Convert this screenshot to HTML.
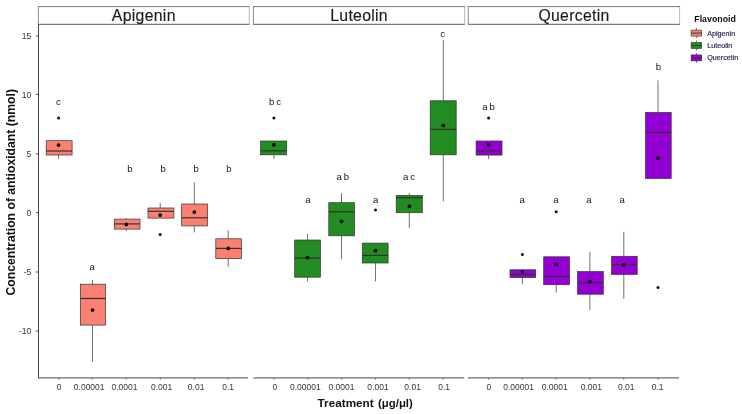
<!DOCTYPE html>
<html><head><meta charset="utf-8"><title>Flavonoid boxplot</title>
<style>
html,body{margin:0;padding:0;background:#fff;}
body{width:742px;height:414px;overflow:hidden;font-family:"Liberation Sans",sans-serif;}
svg{display:block;}
text{filter:grayscale(1);}
text{font-family:"Liberation Sans",sans-serif;}
.tk{font-size:8.5px;fill:#363636;}
.lb{font-size:9.6px;fill:#141414;word-spacing:-0.7px;}
.st{font-size:15.8px;letter-spacing:0.3px;fill:#1a1a1a;stroke:#1a1a1a;stroke-width:0.15px;}
.at{font-size:12.2px;font-weight:bold;fill:#111;}
.lt{font-size:8.8px;font-weight:bold;fill:#111;}
.le{font-size:7.2px;fill:#2c2c62;stroke:#2c2c62;stroke-width:0.2px;filter:saturate(1);}
</style></head><body>
<svg width="742" height="414" viewBox="0 0 742 414">
<rect x="0" y="0" width="742" height="414" fill="#ffffff"/>

<line x1="37.9" y1="6.6" x2="249.7" y2="6.6" stroke="#6a6a6a" stroke-width="0.9"/>
<line x1="37.9" y1="24.3" x2="249.7" y2="24.3" stroke="#4a4a4a" stroke-width="0.9"/>
<line x1="38.3" y1="6.6" x2="38.3" y2="24.3" stroke="#808080" stroke-width="0.9"/>
<line x1="249.3" y1="6.6" x2="249.3" y2="24.3" stroke="#b0b0b0" stroke-width="0.9"/>
<text class="st" x="143.8" y="21.35" text-anchor="middle">Apigenin</text>
<line x1="253.0" y1="6.6" x2="465.1" y2="6.6" stroke="#6a6a6a" stroke-width="0.9"/>
<line x1="253.0" y1="24.3" x2="465.1" y2="24.3" stroke="#4a4a4a" stroke-width="0.9"/>
<line x1="253.4" y1="6.6" x2="253.4" y2="24.3" stroke="#808080" stroke-width="0.9"/>
<line x1="464.7" y1="6.6" x2="464.7" y2="24.3" stroke="#b0b0b0" stroke-width="0.9"/>
<text class="st" x="359.1" y="21.35" text-anchor="middle">Luteolin</text>
<line x1="467.9" y1="6.6" x2="680.0" y2="6.6" stroke="#6a6a6a" stroke-width="0.9"/>
<line x1="467.9" y1="24.3" x2="680.0" y2="24.3" stroke="#4a4a4a" stroke-width="0.9"/>
<line x1="468.3" y1="6.6" x2="468.3" y2="24.3" stroke="#808080" stroke-width="0.9"/>
<line x1="679.6" y1="6.6" x2="679.6" y2="24.3" stroke="#b0b0b0" stroke-width="0.9"/>
<text class="st" x="574.0" y="21.35" text-anchor="middle">Quercetin</text>
<line x1="38.5" y1="24.4" x2="38.5" y2="378.4" stroke="#333" stroke-width="0.9"/>
<line x1="38.0" y1="377.9" x2="248.0" y2="377.9" stroke="#6a6a6a" stroke-width="1.1"/>
<line x1="253.6" y1="377.9" x2="464.2" y2="377.9" stroke="#6a6a6a" stroke-width="1.1"/>
<line x1="467.9" y1="377.9" x2="679.0" y2="377.9" stroke="#6a6a6a" stroke-width="1.1"/>
<line x1="35.8" y1="36.1" x2="38.5" y2="36.1" stroke="#333" stroke-width="0.8"/>
<text class="tk" x="31.3" y="39.1" text-anchor="end">15</text>
<line x1="35.8" y1="94.4" x2="38.5" y2="94.4" stroke="#333" stroke-width="0.8"/>
<text class="tk" x="31.3" y="97.5" text-anchor="end">10</text>
<line x1="35.8" y1="153.8" x2="38.5" y2="153.8" stroke="#333" stroke-width="0.8"/>
<text class="tk" x="31.3" y="156.9" text-anchor="end">5</text>
<line x1="35.8" y1="212.6" x2="38.5" y2="212.6" stroke="#333" stroke-width="0.8"/>
<text class="tk" x="31.3" y="215.7" text-anchor="end">0</text>
<line x1="35.8" y1="272.0" x2="38.5" y2="272.0" stroke="#333" stroke-width="0.8"/>
<text class="tk" x="31.3" y="275.1" text-anchor="end">-5</text>
<line x1="35.8" y1="331.1" x2="38.5" y2="331.1" stroke="#333" stroke-width="0.8"/>
<text class="tk" x="31.3" y="334.2" text-anchor="end">-10</text>
<line x1="59.0" y1="378" x2="59.0" y2="379.7" stroke="#555" stroke-width="0.8"/>
<line x1="92.4" y1="378" x2="92.4" y2="379.7" stroke="#555" stroke-width="0.8"/>
<line x1="126.3" y1="378" x2="126.3" y2="379.7" stroke="#555" stroke-width="0.8"/>
<line x1="160.3" y1="378" x2="160.3" y2="379.7" stroke="#555" stroke-width="0.8"/>
<line x1="194.5" y1="378" x2="194.5" y2="379.7" stroke="#555" stroke-width="0.8"/>
<line x1="228.2" y1="378" x2="228.2" y2="379.7" stroke="#555" stroke-width="0.8"/>
<line x1="273.9" y1="378" x2="273.9" y2="379.7" stroke="#555" stroke-width="0.8"/>
<line x1="307.8" y1="378" x2="307.8" y2="379.7" stroke="#555" stroke-width="0.8"/>
<line x1="341.6" y1="378" x2="341.6" y2="379.7" stroke="#555" stroke-width="0.8"/>
<line x1="375.5" y1="378" x2="375.5" y2="379.7" stroke="#555" stroke-width="0.8"/>
<line x1="409.4" y1="378" x2="409.4" y2="379.7" stroke="#555" stroke-width="0.8"/>
<line x1="443.3" y1="378" x2="443.3" y2="379.7" stroke="#555" stroke-width="0.8"/>
<line x1="488.6" y1="378" x2="488.6" y2="379.7" stroke="#555" stroke-width="0.8"/>
<line x1="522.4" y1="378" x2="522.4" y2="379.7" stroke="#555" stroke-width="0.8"/>
<line x1="556.2" y1="378" x2="556.2" y2="379.7" stroke="#555" stroke-width="0.8"/>
<line x1="589.9" y1="378" x2="589.9" y2="379.7" stroke="#555" stroke-width="0.8"/>
<line x1="623.8" y1="378" x2="623.8" y2="379.7" stroke="#555" stroke-width="0.8"/>
<line x1="658.0" y1="378" x2="658.0" y2="379.7" stroke="#555" stroke-width="0.8"/>
<text class="tk" x="59.0" y="390.4" text-anchor="middle">0</text>
<text class="tk" x="89.2" y="390.4" text-anchor="middle">0.00001</text>
<text class="tk" x="124.5" y="390.4" text-anchor="middle">0.0001</text>
<text class="tk" x="161.6" y="390.4" text-anchor="middle">0.001</text>
<text class="tk" x="196.1" y="390.4" text-anchor="middle">0.01</text>
<text class="tk" x="228.2" y="390.4" text-anchor="middle">0.1</text>
<text class="tk" x="274.8" y="390.4" text-anchor="middle">0</text>
<text class="tk" x="305.3" y="390.4" text-anchor="middle">0.00001</text>
<text class="tk" x="341.5" y="390.4" text-anchor="middle">0.0001</text>
<text class="tk" x="378.0" y="390.4" text-anchor="middle">0.001</text>
<text class="tk" x="412.6" y="390.4" text-anchor="middle">0.01</text>
<text class="tk" x="444.2" y="390.4" text-anchor="middle">0.1</text>
<text class="tk" x="488.8" y="390.4" text-anchor="middle">0</text>
<text class="tk" x="518.6" y="390.4" text-anchor="middle">0.00001</text>
<text class="tk" x="554.7" y="390.4" text-anchor="middle">0.0001</text>
<text class="tk" x="591.4" y="390.4" text-anchor="middle">0.001</text>
<text class="tk" x="626.2" y="390.4" text-anchor="middle">0.01</text>
<text class="tk" x="657.6" y="390.4" text-anchor="middle">0.1</text>
<line x1="58.6" y1="155.0" x2="58.6" y2="159.0" stroke="#333333" stroke-width="0.7"/>
<rect x="46.2" y="140.7" width="25.9" height="14.3" fill="#FA8072" stroke="#333333" stroke-width="0.7"/>
<line x1="46.2" y1="151.0" x2="72.1" y2="151.0" stroke="#333333" stroke-width="1.2"/>
<circle cx="58.6" cy="118.0" r="1.5" fill="#111"/>
<circle cx="58.6" cy="145.0" r="1.85" fill="#000"/>
<line x1="92.5" y1="280.0" x2="92.5" y2="284.2" stroke="#333333" stroke-width="0.7"/>
<line x1="92.5" y1="325.1" x2="92.5" y2="361.8" stroke="#333333" stroke-width="0.7"/>
<rect x="80.4" y="284.2" width="25.1" height="40.9" fill="#FA8072" stroke="#333333" stroke-width="0.7"/>
<line x1="80.4" y1="298.5" x2="105.5" y2="298.5" stroke="#333333" stroke-width="1.2"/>
<circle cx="92.5" cy="310.0" r="1.85" fill="#000"/>
<line x1="126.3" y1="218.0" x2="126.3" y2="219.1" stroke="#333333" stroke-width="0.7"/>
<line x1="126.3" y1="229.1" x2="126.3" y2="231.2" stroke="#333333" stroke-width="0.7"/>
<rect x="114.3" y="219.1" width="25.7" height="10.0" fill="#FA8072" stroke="#333333" stroke-width="0.7"/>
<line x1="114.3" y1="223.9" x2="140.0" y2="223.9" stroke="#333333" stroke-width="1.2"/>
<circle cx="126.3" cy="224.4" r="1.85" fill="#000"/>
<line x1="160.2" y1="203.0" x2="160.2" y2="208.0" stroke="#333333" stroke-width="0.7"/>
<rect x="148.0" y="208.0" width="25.9" height="10.1" fill="#FA8072" stroke="#333333" stroke-width="0.7"/>
<line x1="148.0" y1="211.3" x2="173.9" y2="211.3" stroke="#333333" stroke-width="1.2"/>
<circle cx="160.2" cy="234.4" r="1.5" fill="#111"/>
<circle cx="160.2" cy="215.1" r="1.85" fill="#000"/>
<line x1="194.3" y1="182.2" x2="194.3" y2="204.0" stroke="#333333" stroke-width="0.7"/>
<line x1="194.3" y1="225.9" x2="194.3" y2="232.4" stroke="#333333" stroke-width="0.7"/>
<rect x="181.7" y="204.0" width="25.8" height="21.9" fill="#FA8072" stroke="#333333" stroke-width="0.7"/>
<line x1="181.7" y1="217.8" x2="207.5" y2="217.8" stroke="#333333" stroke-width="1.2"/>
<circle cx="194.3" cy="212.1" r="1.85" fill="#000"/>
<line x1="228.2" y1="230.4" x2="228.2" y2="238.8" stroke="#333333" stroke-width="0.7"/>
<line x1="228.2" y1="258.6" x2="228.2" y2="266.9" stroke="#333333" stroke-width="0.7"/>
<rect x="215.8" y="238.8" width="25.7" height="19.8" fill="#FA8072" stroke="#333333" stroke-width="0.7"/>
<line x1="215.8" y1="248.4" x2="241.5" y2="248.4" stroke="#333333" stroke-width="1.2"/>
<circle cx="228.2" cy="248.4" r="1.85" fill="#000"/>
<line x1="273.9" y1="154.8" x2="273.9" y2="159.0" stroke="#333333" stroke-width="0.7"/>
<rect x="260.6" y="141.0" width="26.1" height="13.8" fill="#228B22" stroke="#333333" stroke-width="0.7"/>
<line x1="260.6" y1="150.8" x2="286.7" y2="150.8" stroke="#333333" stroke-width="1.2"/>
<circle cx="273.9" cy="118.1" r="1.5" fill="#111"/>
<circle cx="273.9" cy="144.8" r="1.85" fill="#000"/>
<line x1="307.6" y1="233.8" x2="307.6" y2="240.0" stroke="#333333" stroke-width="0.7"/>
<line x1="307.6" y1="277.2" x2="307.6" y2="281.5" stroke="#333333" stroke-width="0.7"/>
<rect x="294.7" y="240.0" width="25.7" height="37.2" fill="#228B22" stroke="#333333" stroke-width="0.7"/>
<line x1="294.7" y1="258.1" x2="320.4" y2="258.1" stroke="#333333" stroke-width="1.2"/>
<circle cx="307.6" cy="257.6" r="1.85" fill="#000"/>
<line x1="341.5" y1="193.1" x2="341.5" y2="202.7" stroke="#333333" stroke-width="0.7"/>
<line x1="341.5" y1="235.8" x2="341.5" y2="259.2" stroke="#333333" stroke-width="0.7"/>
<rect x="328.8" y="202.7" width="25.7" height="33.1" fill="#228B22" stroke="#333333" stroke-width="0.7"/>
<line x1="328.8" y1="211.7" x2="354.5" y2="211.7" stroke="#333333" stroke-width="1.2"/>
<circle cx="341.5" cy="221.3" r="1.85" fill="#000"/>
<line x1="375.5" y1="263.0" x2="375.5" y2="281.4" stroke="#333333" stroke-width="0.7"/>
<rect x="362.3" y="243.1" width="25.8" height="19.9" fill="#228B22" stroke="#333333" stroke-width="0.7"/>
<line x1="362.3" y1="255.4" x2="388.1" y2="255.4" stroke="#333333" stroke-width="1.2"/>
<circle cx="375.5" cy="210.0" r="1.5" fill="#111"/>
<circle cx="375.5" cy="250.7" r="1.85" fill="#000"/>
<line x1="409.3" y1="193.1" x2="409.3" y2="195.4" stroke="#333333" stroke-width="0.7"/>
<line x1="409.3" y1="212.7" x2="409.3" y2="227.8" stroke="#333333" stroke-width="0.7"/>
<rect x="396.2" y="195.4" width="26.1" height="17.3" fill="#228B22" stroke="#333333" stroke-width="0.7"/>
<line x1="396.2" y1="197.6" x2="422.3" y2="197.6" stroke="#333333" stroke-width="1.2"/>
<circle cx="409.3" cy="206.4" r="1.85" fill="#000"/>
<line x1="443.3" y1="40.2" x2="443.3" y2="100.8" stroke="#333333" stroke-width="0.7"/>
<line x1="443.3" y1="154.8" x2="443.3" y2="201.4" stroke="#333333" stroke-width="0.7"/>
<rect x="430.2" y="100.8" width="26.0" height="54.0" fill="#228B22" stroke="#333333" stroke-width="0.7"/>
<line x1="430.2" y1="129.4" x2="456.2" y2="129.4" stroke="#333333" stroke-width="1.2"/>
<circle cx="443.3" cy="125.5" r="1.85" fill="#000"/>
<line x1="488.6" y1="155.1" x2="488.6" y2="159.1" stroke="#333333" stroke-width="0.7"/>
<rect x="476.1" y="141.0" width="25.9" height="14.1" fill="#9400D3" stroke="#333333" stroke-width="0.7"/>
<line x1="476.1" y1="150.8" x2="502.0" y2="150.8" stroke="#333333" stroke-width="1.2"/>
<circle cx="488.6" cy="118.1" r="1.5" fill="#111"/>
<circle cx="488.6" cy="144.8" r="1.85" fill="#000"/>
<line x1="522.4" y1="277.6" x2="522.4" y2="284.2" stroke="#333333" stroke-width="0.7"/>
<rect x="510.0" y="269.8" width="25.7" height="7.8" fill="#9400D3" stroke="#333333" stroke-width="0.7"/>
<line x1="510.0" y1="274.5" x2="535.7" y2="274.5" stroke="#333333" stroke-width="1.2"/>
<circle cx="522.4" cy="254.6" r="1.5" fill="#111"/>
<circle cx="522.4" cy="272.0" r="1.85" fill="#000"/>
<line x1="556.2" y1="284.7" x2="556.2" y2="292.7" stroke="#333333" stroke-width="0.7"/>
<rect x="543.7" y="256.8" width="25.9" height="27.9" fill="#9400D3" stroke="#333333" stroke-width="0.7"/>
<line x1="543.7" y1="276.4" x2="569.6" y2="276.4" stroke="#333333" stroke-width="1.2"/>
<circle cx="556.2" cy="211.7" r="1.5" fill="#111"/>
<circle cx="556.2" cy="264.3" r="1.85" fill="#000"/>
<line x1="589.9" y1="252.0" x2="589.9" y2="271.6" stroke="#333333" stroke-width="0.7"/>
<line x1="589.9" y1="294.2" x2="589.9" y2="309.8" stroke="#333333" stroke-width="0.7"/>
<rect x="577.6" y="271.6" width="25.7" height="22.6" fill="#9400D3" stroke="#333333" stroke-width="0.7"/>
<line x1="577.6" y1="282.7" x2="603.3" y2="282.7" stroke="#333333" stroke-width="1.2"/>
<circle cx="589.9" cy="281.7" r="1.85" fill="#000"/>
<line x1="623.8" y1="231.8" x2="623.8" y2="256.3" stroke="#333333" stroke-width="0.7"/>
<line x1="623.8" y1="274.4" x2="623.8" y2="299.0" stroke="#333333" stroke-width="0.7"/>
<rect x="611.6" y="256.3" width="25.6" height="18.1" fill="#9400D3" stroke="#333333" stroke-width="0.7"/>
<line x1="611.6" y1="264.8" x2="637.2" y2="264.8" stroke="#333333" stroke-width="1.2"/>
<circle cx="623.8" cy="264.9" r="1.85" fill="#000"/>
<line x1="658.0" y1="80.3" x2="658.0" y2="112.5" stroke="#333333" stroke-width="0.7"/>
<rect x="645.5" y="112.5" width="25.7" height="66.0" fill="#9400D3" stroke="#333333" stroke-width="0.7"/>
<line x1="645.5" y1="132.4" x2="671.2" y2="132.4" stroke="#333333" stroke-width="1.2"/>
<circle cx="658.0" cy="287.4" r="1.5" fill="#111"/>
<circle cx="658.0" cy="158.2" r="1.85" fill="#000"/>
<text class="lb" x="58.4" y="104.9" text-anchor="middle">c</text>
<text class="lb" x="92.2" y="269.5" text-anchor="middle">a</text>
<text class="lb" x="130.0" y="172.0" text-anchor="middle">b</text>
<text class="lb" x="163.2" y="172.0" text-anchor="middle">b</text>
<text class="lb" x="196.2" y="172.0" text-anchor="middle">b</text>
<text class="lb" x="228.9" y="172.0" text-anchor="middle">b</text>
<text class="lb" x="275.1" y="104.8" text-anchor="middle">b c</text>
<text class="lb" x="308.0" y="202.7" text-anchor="middle">a</text>
<text class="lb" x="342.7" y="180.2" text-anchor="middle">a b</text>
<text class="lb" x="375.6" y="203.1" text-anchor="middle">a</text>
<text class="lb" x="409.0" y="179.9" text-anchor="middle">a c</text>
<text class="lb" x="442.6" y="36.6" text-anchor="middle">c</text>
<text class="lb" x="488.6" y="110.3" text-anchor="middle">a b</text>
<text class="lb" x="522.1" y="202.5" text-anchor="middle">a</text>
<text class="lb" x="556.0" y="202.5" text-anchor="middle">a</text>
<text class="lb" x="588.9" y="202.5" text-anchor="middle">a</text>
<text class="lb" x="622.1" y="202.5" text-anchor="middle">a</text>
<text class="lb" x="658.5" y="70.2" text-anchor="middle">b</text>
<text class="at" x="317.6" y="406.6" style="font-size:11.74px">Treatment</text>
<text class="at" x="378.0" y="406.6" style="font-size:11.4px">(μg/μl)</text>
<text class="at" transform="translate(14.5,192.3) rotate(-90)" text-anchor="middle">Concentration of antioxidant (nmol)</text>
<text class="lt" x="694.3" y="22.0">Flavonoid</text>
<line x1="696.4" y1="28.1" x2="696.4" y2="38.1" stroke="#333" stroke-width="0.7"/>
<rect x="691.1" y="30.1" width="10.6" height="6" fill="#FA8072" stroke="#333" stroke-width="0.6"/>
<line x1="691.1" y1="33.1" x2="701.7" y2="33.1" stroke="#333" stroke-width="0.9"/>
<text class="le" x="707.2" y="35.6">Apigenin</text>
<line x1="696.4" y1="40.5" x2="696.4" y2="50.5" stroke="#333" stroke-width="0.7"/>
<rect x="691.1" y="42.5" width="10.6" height="6" fill="#228B22" stroke="#333" stroke-width="0.6"/>
<line x1="691.1" y1="45.5" x2="701.7" y2="45.5" stroke="#333" stroke-width="0.9"/>
<text class="le" x="707.2" y="48.0">Luteolin</text>
<line x1="696.4" y1="52.9" x2="696.4" y2="62.9" stroke="#333" stroke-width="0.7"/>
<rect x="691.1" y="54.9" width="10.6" height="6" fill="#9400D3" stroke="#333" stroke-width="0.6"/>
<line x1="691.1" y1="57.9" x2="701.7" y2="57.9" stroke="#333" stroke-width="0.9"/>
<text class="le" x="707.2" y="60.4">Quercetin</text>
</svg></body></html>
